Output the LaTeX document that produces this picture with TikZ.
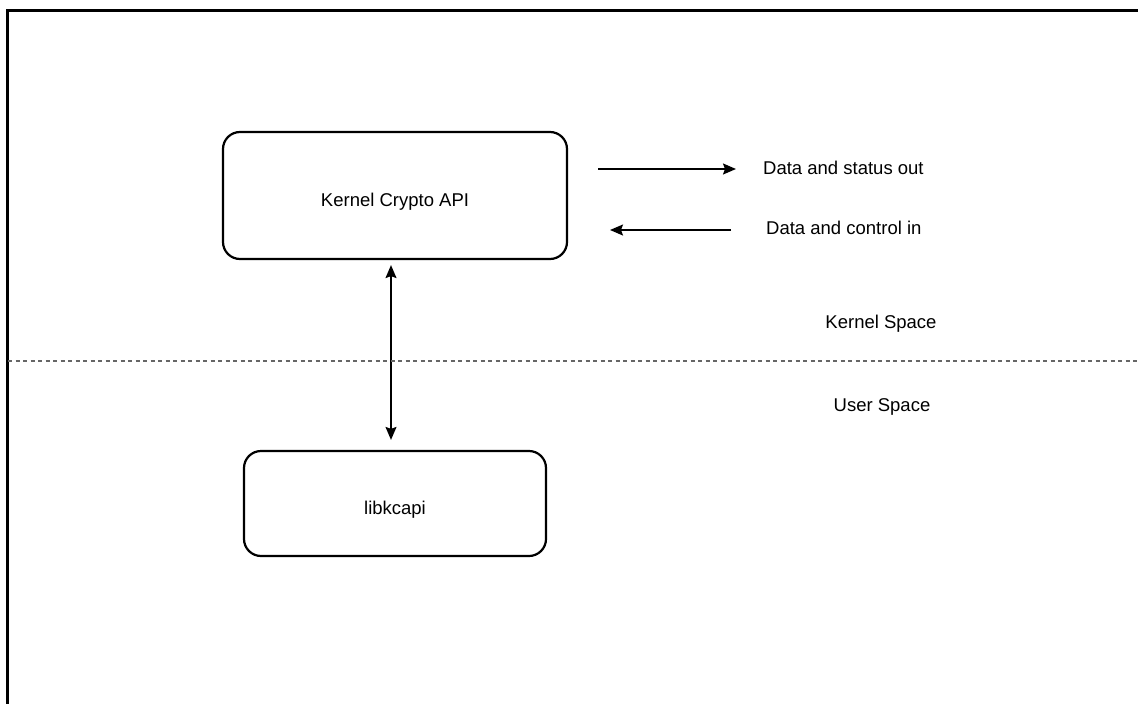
\documentclass[tikz,border=0pt]{standalone}
\usepackage{fontspec}
\setmainfont{Liberation Sans}
\usetikzlibrary{positioning, arrows.meta}

\begin{document}
\begin{tikzpicture}[x = 1pt, y = -1pt, every node/.style = { font = \fontsize{18.5}{22}\selectfont, inner sep = 0pt, text depth = 0pt }, box/.style = { draw, rounded corners = 17pt, line width = 2.2pt, text height = 22pt }, >={Stealth[length = 13pt, width = 11pt, inset = 2pt]}]
    \clip (0, 0) rectangle (1138, 704);
    \draw[line width = 3pt] (7, 10) rectangle (1170, 740);

    \node[box, minimum width = 344pt, minimum height = 127pt] (api) at (395, 195.5) { Kernel Crypto API };
    \node[box, minimum width = 302pt, minimum height = 105pt] (lib) at (395, 503.5) { libkcapi };

    \node[anchor = west] (out) at (763, 168) { Data and status out };
    \node[anchor = west] (in) at (766, 228) { Data and control in };
    \node (kspace) at (881, 322) { Kernel Space };
    \node (uspace) at (882, 405) { User Space };

    \coordinate (outtail) at (598, 169);
    \coordinate (outtip) at (736, 169);
    \coordinate (intail) at (731, 230);
    \coordinate (intip) at (610, 230);
    \coordinate (lleft) at (8, 361);
    \coordinate (lright) at (1138, 361);

    \draw[->, line width = 1.5pt] (outtail) -- (outtip);
    \draw[->, line width = 1.5pt] (intail) -- (intip);
    \draw[<->, line width = 1.5pt, shorten < = 5pt, shorten > = 10pt] ([xshift = -4pt] api.south) -- ([xshift = -4pt] lib.north);
    \draw[black!60, line width = 1.5pt, dash pattern = on 4pt off 3.5pt] (lleft) -- (lright);
\end{tikzpicture}
\end{document}
